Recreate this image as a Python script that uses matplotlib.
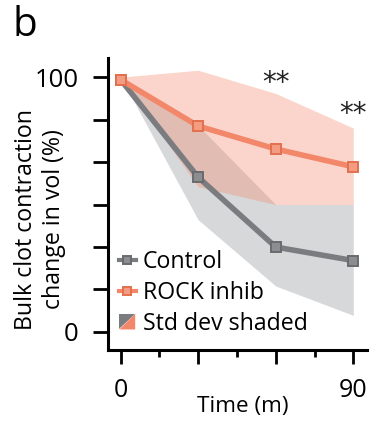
import numpy as np
import matplotlib
matplotlib.use("Agg")
import matplotlib.pyplot as plt
from matplotlib.legend_handler import HandlerBase
from matplotlib.patches import Polygon
from matplotlib.lines import Line2D
from matplotlib.ticker import FixedLocator

# ---- data ----
time = [0, 30, 60, 90]
control_mean = [99, 60.7, 33.3, 28]
control_upper = [100, 81, 50, 50]
control_lower = [100, 44, 18, 6.5]
rock_mean = [99, 80.8, 71.8, 64.8]
rock_upper = [100, 102.7, 93.6, 80]
rock_lower = [100, 57, 50, 50]
series_labels = ["Control", "ROCK inhib", "Std dev shaded"]
xtick_labels = ["0", "90"]
ytick_labels = ["0", "100"]
signif = [(60, 97.6, "**"), (90, 85.6, "**")]

plt.rcParams['font.family'] = ['Open Sans', 'DejaVu Sans']

GREY = '#7b7c80'
GREY_FILL = '#a8aaae'
PINK = '#f2876a'
PINK_FILL = '#f4896b'

W, H = 370, 423
fig = plt.figure(figsize=(W/100, H/100), dpi=100)
axl, axr, axt, axb = 107.7, 367, 58, 350
ax = fig.add_axes([axl/W, 1-axb/H, (axr-axl)/W, (axb-axt)/H])

ax.fill_between(time, control_lower, control_upper, color=GREY_FILL, alpha=0.45, lw=0, zorder=1)
ax.fill_between(time, rock_lower, rock_upper, color=PINK_FILL, alpha=0.35, lw=0, zorder=2)
ax.plot(time, control_mean, color=GREY, lw=4, marker='s', ms=6.5, mfc='#8c8d90',
        mec='#6a6b6e', mew=1.4, zorder=4, solid_capstyle='butt')
ax.plot(time, rock_mean, color=PINK, lw=4, marker='s', ms=6.5, mfc='#f39c82',
        mec='#e2704f', mew=1.4, zorder=4, solid_capstyle='butt')

for t, v, s in signif:
    ax.text(t, v, s, ha='center', va='center', fontsize=20, color='#222222',
            family='DejaVu Sans')

ax.set_xlim(-5, 95.3)
ax.set_ylim(-7.1, 107.5)
for s in ['top', 'right']:
    ax.spines[s].set_visible(False)
for s in ['left', 'bottom']:
    ax.spines[s].set_linewidth(2.2)

ax.xaxis.set_major_locator(FixedLocator([0, 30, 60, 90]))
ax.set_xticklabels([xtick_labels[0], '', '', xtick_labels[1]])
ax.xaxis.set_minor_locator(FixedLocator([15, 45, 75]))
ax.set_yticks([0, 100/6, 200/6, 50, 400/6, 500/6, 100])
ax.set_yticklabels([ytick_labels[0], '', '', '', '', '', ytick_labels[1]])
ax.tick_params(axis='x', which='major', length=10, width=2, pad=10, labelsize=18)
ax.tick_params(axis='x', which='minor', length=5, width=2)
ax.tick_params(axis='y', which='major', length=10.5, width=2, pad=10.5, labelsize=18.5)

ax.set_xlabel('Time (m)', fontsize=16.2, labelpad=-7)
ax.xaxis.set_label_coords(0.52, -0.158)
ax.xaxis.label.set_va('top')
fig.text(40/W, 1-219/H, 'Bulk clot contraction\nchange in vol (%)', rotation=90,
         ha='center', va='center', fontsize=16.7, linespacing=1.25, multialignment='center')
fig.text(13/W, 1-6/H, 'b', fontsize=29, ha='left', va='top')


class SplitHandler(HandlerBase):
    def create_artists(self, legend, orig_handle, xdescent, ydescent, width, height, fontsize, trans):
        s = height * 0.97
        x0 = -xdescent + (width - s) / 2
        y0 = -ydescent + (height - s) / 2
        p1 = Polygon([[x0, y0], [x0, y0 + s], [x0 + s, y0 + s]], closed=True,
                     fc=GREY, ec='none', transform=trans)
        p2 = Polygon([[x0, y0], [x0 + s, y0 + s], [x0 + s, y0]], closed=True,
                     fc=PINK, ec='none', transform=trans)
        return [p1, p2]


h1 = Line2D([], [], color=GREY, lw=3, marker='s', ms=6, mfc='#8c8d90', mec='#6a6b6e', mew=1.4)
h2 = Line2D([], [], color=PINK, lw=3, marker='s', ms=6, mfc='#f39c82', mec='#e2704f', mew=1.4)
h3 = Polygon([[0, 0]], closed=True)
leg = ax.legend([h1, h2, h3], series_labels, handler_map={Polygon: SplitHandler()},
                loc='lower left', bbox_to_anchor=(0.043, 0.049), frameon=False,
                fontsize=16.7, handlelength=0.73, handletextpad=0.3, labelspacing=0.3,
                borderpad=0, borderaxespad=0)

fig.savefig('out.png', dpi=100)
